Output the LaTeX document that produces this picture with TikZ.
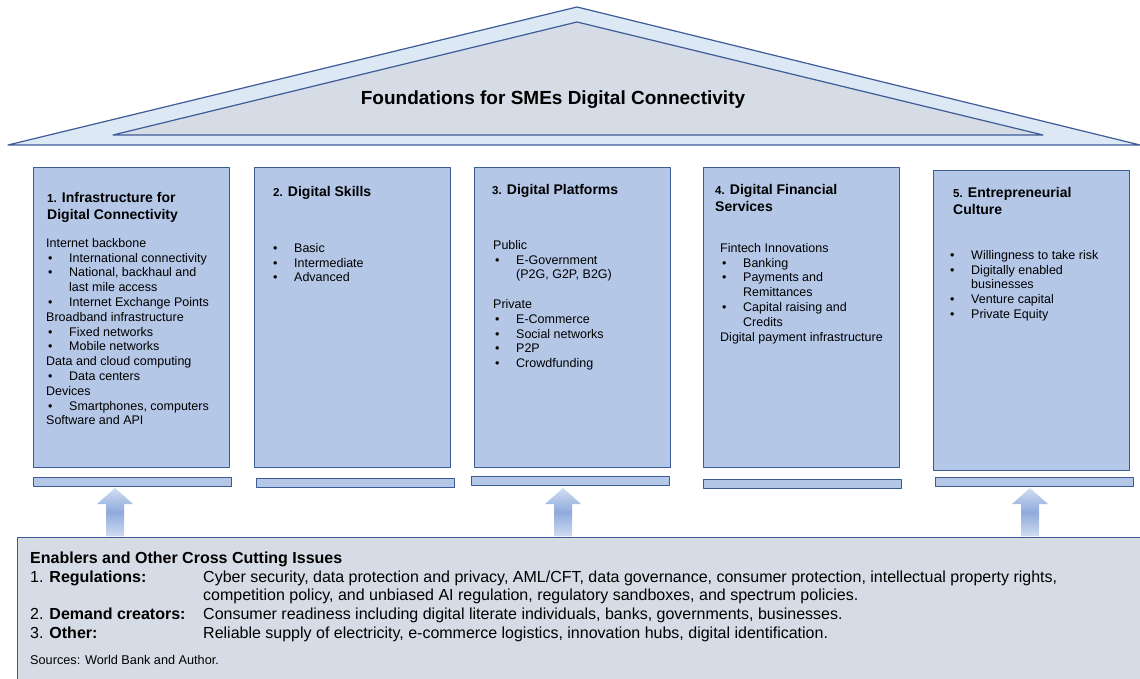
\documentclass[tikz,border=0pt]{standalone}
\usepackage{fontspec}
\setmainfont{Liberation Sans}
\usetikzlibrary{calc}

\definecolor{edge}{RGB}{61,91,151}
\definecolor{pillarfill}{RGB}{180,199,231}
\definecolor{roofout}{RGB}{221,232,245}
\definecolor{roofin}{RGB}{214,220,229}
\definecolor{arrowmid}{RGB}{143,170,220}
\definecolor{arrowlight}{RGB}{208,220,241}

\newcommand{\bul}{\makebox[23pt][l]{\hspace{2pt}\textbullet}}
\newcommand{\ind}{\hspace*{23pt}}
\newcommand{\hnum}[1]{{\fontsize{11.5}{11.5}\selectfont #1}}
\newcommand{\topln}[1]{\rule{0pt}{#1pt}}

\begin{document}
\begin{tikzpicture}
        [x=1pt, y=-1pt, line join=round,
         pillar/.style={draw=edge, fill=pillarfill, line width=1.2pt, anchor=north west, inner sep=0, minimum width=196pt, minimum height=300pt},
         slab/.style={draw=edge, fill=pillarfill, line width=1.2pt, anchor=north west, inner sep=0, minimum width=198pt, minimum height=9pt},
         head/.style={anchor=north west, align=left, inner sep=0, font=\fontsize{14}{17}\selectfont\bfseries},
         body/.style={anchor=north west, align=left, inner sep=0, font=\fontsize{12.5}{14.8}\selectfont},
         wide/.style={anchor=north west, align=left, inner sep=0, font=\fontsize{16}{18.7}\selectfont},
         upshade/.style={top color=arrowlight, bottom color=arrowlight, middle color=arrowmid}]

        \useasboundingbox (0,0) rectangle (1140,679);

        % roof
        \draw[edge, line width=1.2pt, fill=roofout] (8,145) -- (577,7) -- (1140,145) -- cycle;
        \draw[edge, line width=1.2pt, fill=roofin] (113,135) -- (577,22) -- (1043,135) -- cycle;
        \node[font=\fontsize{19}{22}\selectfont\bfseries] (title) at (553,100) {Foundations for SMEs Digital Connectivity};

        % pillars
        \node[pillar] (p1) at (33,167) {};
        \node[pillar] (p2) at (254,167) {};
        \node[pillar] (p3) at (474,167) {};
        \node[pillar] (p4) at (703,167) {};
        \node[pillar] (p5) at (933,170) {};

        \node[slab] (s1) at (33,477) {};
        \node[slab] (s2) at (256,478) {};
        \node[slab] (s3) at (471,476) {};
        \node[slab] (s4) at (703,479) {};
        \node[slab] (s5) at (935,477) {};

        % pillar texts
        \node[head] (h1) at (47,191) {\topln{11}\hnum{1.} Infrastructure for\\Digital Connectivity};
        \node[head] (h2) at (273,185) {\topln{11}\hnum{2.} Digital Skills};
        \node[head] (h3) at (492,183) {\topln{11}\hnum{3.} Digital Platforms};
        \node[head] (h4) at (715,183) {\topln{11}\hnum{4.} Digital Financial\\Services};
        \node[head] (h5) at (953,186) {\topln{11}\hnum{5.} Entrepreneurial\\Culture};

        \node[body] (b1) at (46,237) {\topln{10}Internet backbone\\
          \bul International connectivity\\
          \bul National, backhaul and\\
          \ind last mile access\\
          \bul Internet Exchange Points\\
          Broadband infrastructure\\
          \bul Fixed networks\\
          \bul Mobile networks\\
          Data and cloud computing\\
          \bul Data centers\\
          Devices\\
          \bul Smartphones, computers\\
          Software and API};
        \node[body] (b2) at (271,242) {\topln{10}\bul Basic\\
          \bul Intermediate\\
          \bul Advanced};
        \node[body] (b3) at (493,239) {\topln{10}Public\\
          \bul E-Government\\
          \ind (P2G, G2P, B2G)\\[14.8pt]
          Private\\
          \bul E-Commerce\\
          \bul Social networks\\
          \bul P2P\\
          \bul Crowdfunding};
        \node[body] (b4) at (720,242) {\topln{10}Fintech Innovations\\
          \bul Banking\\
          \bul Payments and\\
          \ind Remittances\\
          \bul Capital raising and\\
          \ind Credits\\
          Digital payment infrastructure};
        \node[body] (b5) at (948,249) {\topln{10}\bul Willingness to take risk\\
          \bul Digitally enabled\\
          \ind businesses\\
          \bul Venture capital\\
          \bul Private Equity};

        % arrows up from the enablers
        \coordinate (a1) at (115,488);
        \coordinate (a2) at (563,488);
        \coordinate (a3) at (1030,488);
        \node[draw=edge, fill=roofin, line width=1.2pt, anchor=north west, inner sep=0, minimum width=1140pt, minimum height=160pt] (enab) at (17,537) {};
        \foreach \a in {a1,a2,a3}
          \shade[upshade] (\a) -- ($(\a)+(18,16)$) -- ($(\a)+(9,16)$) -- ($(\a |- enab.north)+(9,-0.6)$)
            -- ($(\a |- enab.north)+(-9,-0.6)$) -- ($(\a)+(-9,16)$) -- ($(\a)+(-18,16)$) -- cycle;

        % enablers text
        \node[wide, font=\fontsize{16}{18.7}\selectfont\bfseries] (eh) at (30,551) {\topln{12}Enablers and Other Cross Cutting Issues};
        \node[wide] (el) at (30,570) {\topln{12}1. \textbf{Regulations:}\\[18.7pt]
          2. \textbf{Demand creators:}\\
          3. \textbf{Other:}};
        \node[wide] (ed) at (203,570) {\topln{12}Cyber security, data protection and privacy, AML/CFT, data governance, consumer protection, intellectual property rights,\\
          competition policy, and unbiased AI regulation, regulatory sandboxes, and spectrum policies.\\
          Consumer readiness including digital literate individuals, banks, governments, businesses.\\
          Reliable supply of electricity, e-commerce logistics, innovation hubs, digital identification.};
        \node[body, font=\fontsize{12.7}{14.8}\selectfont] (src) at (30,654) {\topln{10}Sources: World Bank and Author.};

      \end{tikzpicture}
\end{document}
